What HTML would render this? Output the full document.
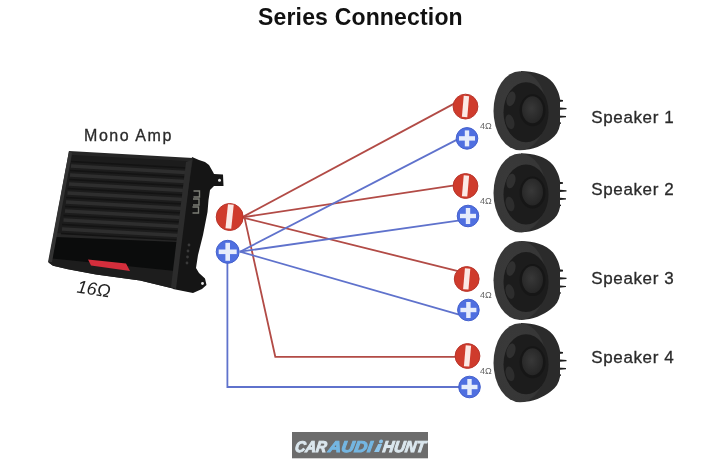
<!DOCTYPE html>
<html><head><meta charset="utf-8">
<style>
html,body{margin:0;padding:0;background:#fff;}
body{width:720px;height:462px;overflow:hidden;position:relative;font-family:"Liberation Sans",sans-serif;}
svg{position:absolute;left:0;top:0;filter:blur(0.5px);}
</style></head>
<body>
<svg width="720" height="462" viewBox="0 0 720 462">
<defs>
  <radialGradient id="dome" cx="0.45" cy="0.45" r="0.6">
    <stop offset="0" stop-color="#383838"/>
    <stop offset="1" stop-color="#242424"/>
  </radialGradient>
  <radialGradient id="rimg" cx="0.35" cy="0.4" r="0.75">
    <stop offset="0" stop-color="#3a3a3a"/>
    <stop offset="0.85" stop-color="#363636"/>
    <stop offset="1" stop-color="#2a2a2a"/>
  </radialGradient>
  <g id="spk">
    <!-- fins -->
    <g fill="#1e1e1e">
      <path d="M36,-11.5 L42,-10.8 L42,-9.2 L36,-8.5 Z"/>
      <path d="M36,-3.5 L45.5,-2.8 L45.5,-1.6 L36,-0.8 Z"/>
      <path d="M36,4.6 L45,5.3 L45,6.5 L36,7.3 Z"/>
      <path d="M36,11 L40,11.8 L40,13 L36,13.6 Z"/>
    </g>
    <!-- body -->
    <path d="M0,-39.7 C12,-39.7 25,-36.5 32,-28 C36.5,-22 38.5,-16 39,-12 L39,14 C38,20 35,25 30,28.5 C22,34.5 12,39.3 0,39.3 Z" fill="#2b2b2b"/>
    <!-- front rim -->
    <ellipse cx="-1" cy="0" rx="26.5" ry="39.5" fill="url(#rimg)"/>
    <!-- cavity -->
    <ellipse cx="5" cy="1.5" rx="22.5" ry="30" fill="#1c1c1c"/>
    <ellipse cx="-10" cy="-12" rx="4.3" ry="7.5" fill="#303030" transform="rotate(15 -10 -12)"/>
    <ellipse cx="-11" cy="11" rx="4.2" ry="7.5" fill="#2d2d2d" transform="rotate(-15 -11 11)"/>
    <!-- dome -->
    <ellipse cx="11.5" cy="-0.5" rx="13" ry="16" fill="#161616"/>
    <ellipse cx="11.5" cy="-1" rx="10.5" ry="13.5" fill="url(#dome)"/>
  </g>
</defs>

<!-- Title -->
<text x="258" y="24.5" font-family="Liberation Sans" font-weight="bold" font-size="23" letter-spacing="0.17" fill="#111">Series Connection</text>

<!-- Mono Amp label -->
<text x="84" y="140.6" font-family="Liberation Sans" font-size="16" letter-spacing="1.55" fill="#2a2a2a" stroke="#2a2a2a" stroke-width="0.3">Mono Amp</text>

<!-- Amp -->
<g>
  <!-- side panel + bracket -->
  <polygon points="192,157 199,160 205,162 209,165 213,172 214,174 223,174.5 223.5,186 214,186 210,190 208.5,200 207.5,212 203,235 198,255 196,268 199,273 205,278.5 206.5,285 202,289 193,293 173,289" fill="#151515"/>
  <circle cx="219.5" cy="180.3" r="1.5" fill="#e8e8e8"/>
  <!-- main face outer bevel -->
  <polygon points="69,151 193,158 173,288.5 140,280.6 96,274.4 68,269.3 53,265.8 48.5,262.5" fill="#262626"/>
  <!-- main face inner -->
  <polygon points="72,155 188,161 178,240 55,233" fill="#1c1c1c"/>
  <!-- ribs -->
  <g stroke="#2e2e2e" stroke-width="3.6">
    <line x1="71" y1="166" x2="186" y2="172.5"/>
    <line x1="70" y1="175" x2="185" y2="181.5"/>
    <line x1="69" y1="184" x2="184" y2="190.5"/>
    <line x1="67.5" y1="193" x2="183" y2="199.5"/>
    <line x1="66" y1="202" x2="181.5" y2="208.5"/>
    <line x1="65" y1="211" x2="180.5" y2="217.5"/>
    <line x1="63.5" y1="220" x2="179" y2="226.5"/>
    <line x1="62" y1="229" x2="178" y2="235.5"/>
  </g>
  <g stroke="#131313" stroke-width="1.3">
    <line x1="71" y1="161.5" x2="187" y2="168"/>
    <line x1="70" y1="170.5" x2="186" y2="177"/>
    <line x1="69" y1="179.5" x2="185" y2="186"/>
    <line x1="67.5" y1="188.5" x2="184" y2="195"/>
    <line x1="66" y1="197.5" x2="182.5" y2="204"/>
    <line x1="65" y1="206.5" x2="181.5" y2="213"/>
    <line x1="63.5" y1="215.5" x2="180" y2="222"/>
    <line x1="62" y1="224.5" x2="179" y2="231"/>
    <line x1="61" y1="233.5" x2="178" y2="240"/>
  </g>
  <!-- lower bevel -->
  <polygon points="52,258 176,270 173,288.5 140,280.6 96,274.4 68,269.3 53,265.8 48.5,262.5" fill="#1d1d1d"/>
  <!-- lower glossy -->
  <polygon points="56,237 178,242 175.5,271 52,258.5" fill="#0b0c0c"/>
  <!-- right bevel strip -->
  <polygon points="186,162 192,160 176,289 171,287" fill="#2c2c2c"/>
  <!-- left edge highlight -->
  <polygon points="69,151 72,153 52,262 48,262" fill="#333"/>
  <!-- red light -->
  <polygon points="88,259.5 126,263.5 130,271 91,265.5" fill="#d42e3c"/>
  <!-- terminals -->
  <g stroke="#7c7e76" stroke-width="1.4" fill="none">
    <path d="M193.5,191 h6 v6 h-6"/>
    <path d="M193,199 h6 v6 h-6"/>
    <path d="M192.5,207 h6 v6 h-6"/>
  </g>
  <g fill="#3a3a3a">
    <circle cx="189" cy="245" r="1.4"/>
    <circle cx="188" cy="251" r="1.4"/>
    <circle cx="187.5" cy="257" r="1.4"/>
    <circle cx="187" cy="263" r="1.4"/>
  </g>
  <!-- bracket bottom -->
  <circle cx="202.5" cy="283.5" r="1.4" fill="#e8e8e8"/>
</g>

<!-- 16 ohm -->
<text x="0" y="0" font-family="Liberation Sans" font-style="italic" font-size="18" fill="#222" transform="translate(76.2,292.6) rotate(8)">16Ω</text>

<!-- Wires -->
<g fill="none" stroke-width="1.8" stroke-linejoin="miter">
  <g stroke="#b24b46">
    <line x1="242" y1="217.4" x2="456" y2="102.6"/>
    <line x1="242" y1="217.4" x2="456" y2="185.1"/>
    <line x1="242" y1="217.4" x2="458" y2="271.1"/>
    <polyline points="244.5,217.4 275.3,356.8 467.5,356.8"/>
  </g>
  <g stroke="#5f72cc">
    <line x1="240" y1="251.7" x2="460" y2="138.1"/>
    <line x1="240" y1="251.7" x2="460" y2="220.4"/>
    <line x1="240" y1="251.7" x2="460" y2="314.8"/>
    <polyline points="227.4,252 227.4,387 469.5,387"/>
  </g>
</g>

<!-- Amp terminals -->
<g>
  <circle cx="229.7" cy="217" r="13.5" fill="#cf3b2c" stroke="#b8342a" stroke-width="1"/>
  <rect x="226.7" y="204.5" width="5.8" height="24" fill="#fbe9e5" transform="rotate(6 229.6 216.5)"/>
  <circle cx="227.7" cy="251.8" r="11.5" fill="#4f6fe0" stroke="#4460cc" stroke-width="1"/>
  <rect x="225.4" y="242.8" width="4.6" height="18" fill="#e6ecfb"/>
  <rect x="218.7" y="249.5" width="18" height="4.6" fill="#e6ecfb"/>
</g>

<!-- Speaker terminals -->
<g id="terms">
  <g>
    <circle cx="465.5" cy="106.6" r="12.4" fill="#cf3b2c" stroke="#b8342a" stroke-width="1"/>
    <rect x="462.8" y="96" width="5.4" height="21" fill="#fbe9e5" transform="rotate(5 465.5 106.6)"/>
    <circle cx="467" cy="138.4" r="10.8" fill="#4f6fe0" stroke="#4460cc" stroke-width="1"/>
    <rect x="464.8" y="130.4" width="4.4" height="16" fill="#e6ecfb"/>
    <rect x="459" y="136.2" width="16" height="4.4" fill="#e6ecfb"/>
  </g>
  <g>
    <circle cx="465.5" cy="186" r="12.4" fill="#cf3b2c" stroke="#b8342a" stroke-width="1"/>
    <rect x="462.8" y="175.4" width="5.4" height="21" fill="#fbe9e5" transform="rotate(5 465.5 186)"/>
    <circle cx="468" cy="216" r="10.8" fill="#4f6fe0" stroke="#4460cc" stroke-width="1"/>
    <rect x="465.8" y="208" width="4.4" height="16" fill="#e6ecfb"/>
    <rect x="460" y="213.8" width="16" height="4.4" fill="#e6ecfb"/>
  </g>
  <g>
    <circle cx="466.7" cy="279" r="12.4" fill="#cf3b2c" stroke="#b8342a" stroke-width="1"/>
    <rect x="464.0" y="268.4" width="5.4" height="21" fill="#fbe9e5" transform="rotate(5 466.7 279)"/>
    <circle cx="468.4" cy="310" r="10.8" fill="#4f6fe0" stroke="#4460cc" stroke-width="1"/>
    <rect x="466.2" y="302" width="4.4" height="16" fill="#e6ecfb"/>
    <rect x="460.4" y="307.8" width="16" height="4.4" fill="#e6ecfb"/>
  </g>
  <g>
    <circle cx="467.5" cy="356" r="12.4" fill="#cf3b2c" stroke="#b8342a" stroke-width="1"/>
    <rect x="464.8" y="345.4" width="5.4" height="21" fill="#fbe9e5" transform="rotate(5 467.5 356)"/>
    <circle cx="469.5" cy="387" r="10.8" fill="#4f6fe0" stroke="#4460cc" stroke-width="1"/>
    <rect x="467.3" y="379" width="4.4" height="16" fill="#e6ecfb"/>
    <rect x="461.5" y="384.8" width="16" height="4.4" fill="#e6ecfb"/>
  </g>
</g>

<!-- 4 ohm labels -->
<g font-family="Liberation Sans" font-size="9" fill="#666">
  <text x="480" y="129">4Ω</text>
  <text x="480" y="203.5">4Ω</text>
  <text x="480" y="298">4Ω</text>
  <text x="480" y="374">4Ω</text>
</g>

<!-- Speakers -->
<use href="#spk" x="521" y="110.8"/>
<use href="#spk" x="521" y="193"/>
<use href="#spk" x="521" y="280.6"/>
<use href="#spk" x="521" y="362.8"/>

<!-- Speaker labels -->
<g font-family="Liberation Sans" font-size="17" letter-spacing="0.62" fill="#2a2a2a" stroke="#2a2a2a" stroke-width="0.3">
  <text x="591.3" y="122.6">Speaker 1</text>
  <text x="591.3" y="195">Speaker 2</text>
  <text x="591.3" y="284">Speaker 3</text>
  <text x="591.3" y="363">Speaker 4</text>
</g>

<!-- Logo -->
<rect x="292" y="432" width="136" height="26.3" fill="#6c6c6c"/>
<g font-family="Liberation Sans" font-weight="bold" font-style="italic" font-size="15.5" stroke-width="1" transform="translate(0,452.2) skewX(-8) translate(0,-452.2)">
  <text x="294.5" y="452.2" textLength="31.5" lengthAdjust="spacingAndGlyphs" fill="#dbe7ee" stroke="#dbe7ee">CAR</text>
  <text x="327.8" y="452.2" textLength="44" lengthAdjust="spacingAndGlyphs" fill="#74b6e2" stroke="#74b6e2">AUDI</text>
  <path d="M374,452 L377,444 L381,444 L379,452 Z" fill="#8cc4ea"/>
  <circle cx="379.5" cy="441.5" r="2" fill="#8cc4ea"/>
  <text x="382.3" y="452.2" textLength="42.7" lengthAdjust="spacingAndGlyphs" fill="#dbe7ee" stroke="#dbe7ee">HUNT</text>
</g>
</svg>
</body></html>
